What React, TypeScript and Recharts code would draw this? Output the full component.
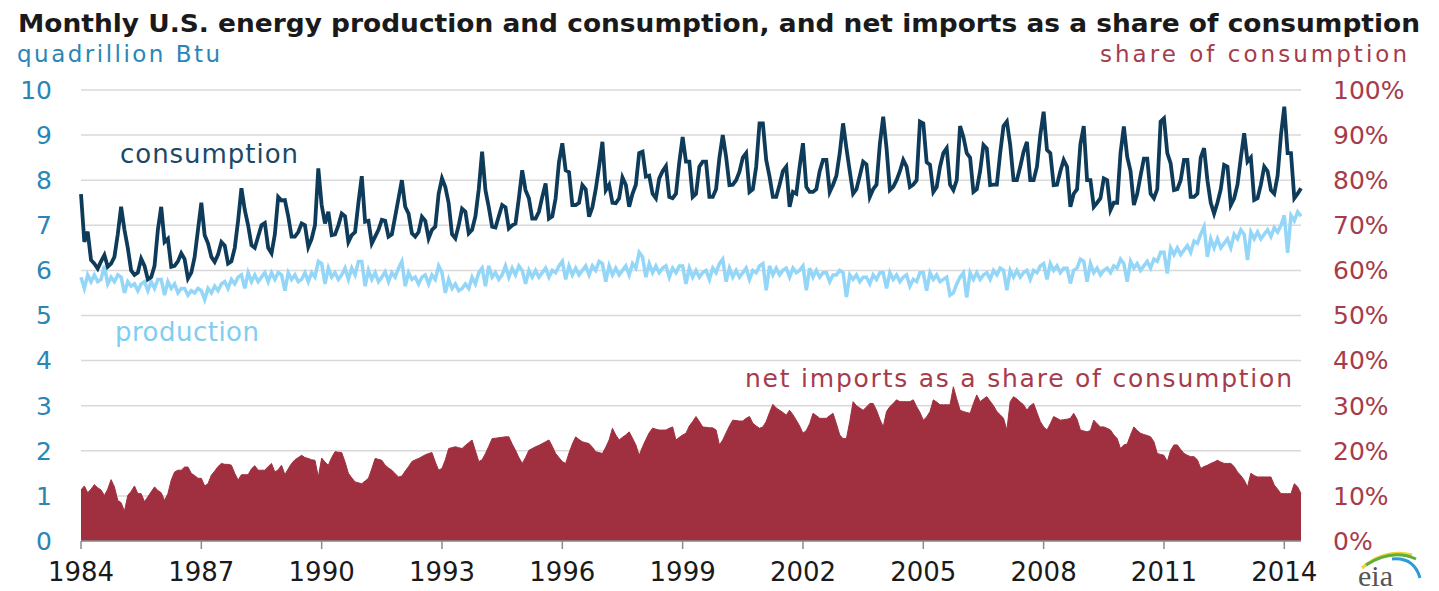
import React from 'react';
import { ComposedChart, Area, Line, XAxis, YAxis, CartesianGrid } from 'recharts';

// monthly values, Jan 1984 - Jun 2014
const consumption1984to1993 = [
  7.69, 6.63, 6.86, 6.23, 6.15, 6.04, 6.2, 6.34, 6.08, 6.15, 6.3, 6.8,
  7.41, 6.9, 6.5, 6.0, 5.9, 5.95, 6.26, 6.1, 5.8, 5.85, 6.1, 6.9,
  7.41, 6.63, 6.7, 6.08, 6.1, 6.2, 6.38, 6.25, 5.82, 5.95, 6.3, 6.9,
  7.5, 6.78, 6.6, 6.3, 6.19, 6.35, 6.63, 6.55, 6.15, 6.2, 6.5, 7.1,
  7.82, 7.34, 7.0, 6.56, 6.5, 6.75, 7.0, 7.05, 6.5, 6.38, 6.8, 7.63,
  7.55, 7.56, 7.2, 6.75, 6.75, 6.85, 7.04, 7.0, 6.52, 6.7, 7.0, 8.26,
  7.45, 7.04, 7.3, 6.78, 6.8, 7.0, 7.26, 7.2, 6.63, 6.78, 6.85, 7.5,
  8.09, 7.08, 7.1, 6.6, 6.75, 6.9, 7.12, 7.1, 6.75, 6.8, 7.2, 7.6,
  8.0, 7.41, 7.26, 6.82, 6.75, 6.85, 7.19, 7.1, 6.71, 6.9, 6.97, 7.7,
  8.04, 7.85, 7.49, 6.8, 6.71, 7.0, 7.37, 7.3, 6.82, 6.9, 7.2, 7.8,
];
const consumption1994to2003 = [
  8.63, 7.78, 7.4, 6.97, 6.95, 7.2, 7.45, 7.4, 6.93, 7.0, 7.04, 7.6,
  8.22, 7.78, 7.6, 7.15, 7.15, 7.3, 7.63, 7.93, 7.15, 7.2, 7.6, 8.4,
  8.82, 8.22, 8.18, 7.45, 7.45, 7.5, 7.89, 7.8, 7.19, 7.4, 7.8, 8.3,
  8.85, 7.78, 7.9, 7.5, 7.49, 7.6, 8.06, 7.9, 7.41, 7.7, 7.9, 8.6,
  8.63, 8.08, 8.1, 7.7, 7.6, 8.04, 8.2, 8.31, 7.63, 7.6, 7.7, 8.4,
  8.96, 8.41, 8.41, 7.63, 7.7, 8.3, 8.41, 8.41, 7.63, 7.63, 7.8, 8.5,
  9.0, 8.52, 7.89, 7.9, 8.0, 8.19, 8.5, 8.6, 7.74, 7.8, 8.3, 9.26,
  9.26, 8.45, 8.08, 7.63, 7.63, 7.9, 8.2, 8.3, 7.41, 7.74, 7.7, 8.3,
  8.82, 7.85, 7.74, 7.74, 7.8, 8.2, 8.45, 8.45, 7.74, 7.9, 8.1, 8.6,
  9.26, 8.71, 8.2, 7.7, 7.8, 8.1, 8.41, 8.35, 7.63, 7.8, 7.9, 8.8,
];
const consumption2004to2014 = [
  9.41, 8.71, 7.78, 7.85, 8.0, 8.2, 8.45, 8.3, 7.85, 7.9, 8.0, 9.3,
  9.26, 8.4, 8.34, 7.74, 7.85, 8.3, 8.6, 8.71, 7.9, 7.78, 8.0, 9.2,
  8.96, 8.6, 8.5, 7.74, 7.8, 8.2, 8.78, 8.7, 7.89, 7.9, 7.9, 8.6,
  9.2, 9.3, 8.78, 8.0, 8.0, 8.3, 8.63, 8.85, 8.0, 8.0, 8.3, 9.0,
  9.52, 8.67, 8.6, 7.89, 7.9, 8.2, 8.45, 8.3, 7.41, 7.7, 7.8, 8.8,
  9.2, 8.0, 8.0, 7.41, 7.5, 7.6, 8.04, 8.0, 7.34, 7.5, 7.5, 8.6,
  9.19, 8.52, 8.2, 7.45, 7.7, 8.1, 8.48, 8.48, 7.7, 7.6, 7.8, 9.3,
  9.37, 8.6, 8.37, 7.78, 7.8, 8.0, 8.45, 8.45, 7.63, 7.63, 7.7, 8.5,
  8.71, 8.0, 7.5, 7.26, 7.5, 7.8, 8.34, 8.3, 7.45, 7.6, 7.9, 8.5,
  9.04, 8.41, 8.5, 7.56, 7.6, 7.9, 8.3, 8.2, 7.78, 7.7, 8.1, 9.0,
  9.63, 8.6, 8.6, 7.6, 7.7, 7.82,
];

const production1984to1993 = [
  5.85, 5.6, 5.9, 5.75, 5.9, 5.75, 5.8, 6.1, 5.7, 5.85, 5.75, 5.9,
  5.85, 5.5, 5.75, 5.65, 5.7, 5.55, 5.7, 5.75, 5.55, 5.75, 5.6, 5.8,
  5.8, 5.45, 5.75, 5.6, 5.7, 5.5, 5.6, 5.6, 5.45, 5.55, 5.5, 5.6,
  5.55, 5.35, 5.6, 5.5, 5.65, 5.55, 5.7, 5.75, 5.6, 5.8, 5.7, 5.85,
  5.9, 5.6, 5.95, 5.75, 5.9, 5.75, 5.85, 5.95, 5.75, 5.95, 5.8, 5.95,
  5.9, 5.55, 5.95, 5.8, 5.9, 5.75, 5.8, 5.95, 5.75, 5.95, 5.85, 6.2,
  6.15, 5.7, 6.05, 5.85, 5.95, 5.8, 5.9, 6.05, 5.8, 6.05, 5.9, 6.2,
  6.2, 5.65, 6.0, 5.8, 5.95, 5.75, 5.85, 5.97, 5.75, 5.95, 5.85, 6.05,
  6.2, 5.65, 5.95, 5.8, 5.85, 5.7, 5.85, 5.9, 5.7, 5.9, 5.8, 6.1,
  5.95, 5.5, 5.8, 5.6, 5.7, 5.55, 5.6, 5.7, 5.6, 5.85, 5.7, 5.95,
];
const production1994to2003 = [
  6.05, 5.65, 6.1, 5.85, 5.95, 5.8, 5.9, 6.1, 5.85, 6.05, 5.9, 6.1,
  6.0, 5.7, 6.0, 5.85, 6.0, 5.85, 5.95, 6.05, 5.85, 6.0, 5.95, 6.1,
  6.2, 5.8, 6.1, 5.9, 6.05, 5.9, 6.0, 6.1, 5.9, 6.1, 6.0, 6.2,
  6.15, 5.75, 6.1, 5.9, 6.05, 5.9, 6.0, 6.1, 5.9, 6.15, 6.05, 6.4,
  6.3, 5.85, 6.15, 5.95, 6.1, 5.95, 6.05, 6.1, 5.85, 6.05, 5.95, 6.1,
  6.1, 5.7, 6.05, 5.85, 6.0, 5.85, 5.95, 6.0, 5.8, 6.05, 5.95, 6.15,
  6.25, 5.75, 6.05, 5.85, 6.0, 5.85, 5.95, 6.05, 5.8, 6.0, 5.95, 6.1,
  6.15, 5.56, 6.1, 5.9, 6.05, 5.9, 6.0, 6.05, 5.85, 6.05, 5.95, 6.0,
  6.1, 5.56, 6.05, 5.85, 6.0, 5.85, 5.95, 5.95, 5.75, 5.9, 5.9, 6.0,
  5.95, 5.41, 5.9, 5.8, 5.9, 5.75, 5.85, 5.85, 5.7, 5.9, 5.8, 5.95,
];
const production2004to2014 = [
  5.95, 5.6, 5.95, 5.8, 5.9, 5.75, 5.85, 5.9, 5.65, 5.8, 5.75, 5.95,
  5.95, 5.55, 5.95, 5.8, 5.9, 5.75, 5.8, 5.85, 5.45, 5.5, 5.7, 5.85,
  5.95, 5.4, 5.95, 5.8, 5.95, 5.8, 5.9, 5.95, 5.8, 6.0, 5.9, 6.05,
  6.0, 5.56, 6.0, 5.85, 6.0, 5.85, 5.95, 6.0, 5.8, 6.0, 5.95, 6.1,
  6.15, 5.8, 6.15, 6.0, 6.1, 5.95, 6.05, 6.05, 5.71, 6.0, 6.05, 6.25,
  6.2, 5.75, 6.15, 5.95, 6.05, 5.9, 6.0, 6.05, 5.95, 6.1, 6.05, 6.25,
  6.15, 5.75, 6.2, 6.05, 6.15, 6.0, 6.1, 6.2, 6.05, 6.25, 6.2, 6.4,
  6.4, 5.93, 6.5, 6.35, 6.5, 6.35, 6.45, 6.55, 6.4, 6.65, 6.6, 6.8,
  6.97, 6.3, 6.7, 6.5, 6.7, 6.5, 6.6, 6.7, 6.5, 6.8, 6.7, 6.9,
  6.8, 6.23, 6.85, 6.7, 6.85, 6.7, 6.8, 6.9, 6.75, 6.95, 6.85, 7.0,
  7.22, 6.39, 7.22, 7.1, 7.3, 7.2,
];

// net imports, percent of consumption
const share1984to1993 = [
  11.3, 12.2, 10.7, 11.5, 12.5, 11.8, 11.3, 10.1, 11.5, 13.6, 12.0, 9.0,
  8.5, 6.6, 10.1, 11.0, 12.2, 10.5, 10.5, 8.7, 9.8, 10.9, 12.0, 11.2,
  10.7, 9.0, 10.5, 13.5, 15.3, 15.7, 15.7, 16.4, 16.4, 15.0, 14.5, 13.9,
  13.9, 12.2, 12.7, 14.6, 15.5, 16.5, 17.2, 17.0, 17.0, 16.8, 15.0, 13.5,
  14.7, 14.7, 14.7, 16.0, 16.7, 15.7, 15.7, 15.7, 16.5, 17.2, 15.3, 15.8,
  16.8, 14.7, 16.0, 17.2, 18.0, 18.5, 19.0, 18.5, 18.3, 18.0, 17.9, 14.2,
  18.4, 17.5, 16.8, 18.5, 19.8, 19.7, 19.6, 17.5, 15.0, 14.0, 13.1, 12.9,
  12.7, 13.3, 13.9, 16.0, 18.3, 18.1, 17.9, 16.8, 16.2, 15.7, 14.9, 14.2,
  14.4, 15.5, 16.5, 17.6, 18.0, 18.3, 18.7, 19.1, 19.4, 19.6, 17.5, 15.7,
  16.1, 18.0, 20.5, 20.7, 20.9, 20.7, 20.5, 21.2, 21.8, 22.4, 20.0, 17.6,
];
const share1994to2003 = [
  18.0, 19.4, 21.0, 22.7, 22.8, 22.9, 23.0, 23.1, 23.1, 21.5, 20.1, 18.5,
  17.2, 18.5, 20.1, 20.5, 20.9, 21.2, 21.6, 22.0, 22.4, 21.0, 19.4, 18.5,
  17.6, 17.2, 19.5, 21.5, 23.1, 22.5, 22.0, 21.8, 21.6, 20.8, 19.8, 19.6,
  19.4, 20.8, 22.4, 25.0, 23.5, 22.4, 23.0, 23.5, 24.2, 22.8, 21.3, 19.0,
  20.9, 22.5, 24.0, 25.0, 24.8, 24.6, 24.6, 24.6, 25.0, 25.3, 22.4, 23.0,
  23.5, 23.9, 25.5, 26.5, 27.6, 26.5, 25.3, 25.2, 25.1, 25.1, 24.6, 21.3,
  22.4, 24.0, 25.5, 26.8, 26.7, 26.6, 26.6, 27.2, 27.6, 26.1, 25.5, 25.0,
  25.3, 26.5, 28.5, 30.3, 29.5, 29.0, 28.5, 27.9, 29.0, 28.0, 26.8, 25.5,
  23.9, 24.5, 26.0, 28.3, 27.8, 27.2, 27.2, 27.2, 27.8, 28.3, 26.0, 23.5,
  22.7, 22.7, 26.5, 30.9, 30.0, 29.5, 29.0, 29.7, 30.5, 30.5, 29.0, 27.0,
];
const share2004to2014 = [
  25.3, 28.7, 29.8, 30.5, 31.3, 30.9, 30.9, 30.9, 30.9, 31.3, 29.8, 28.5,
  26.8, 27.5, 28.7, 31.3, 30.8, 30.2, 30.2, 30.2, 30.2, 34.2, 31.5, 29.0,
  28.7, 28.5, 28.3, 30.5, 32.4, 30.9, 31.5, 32.0, 31.0, 30.0, 28.7, 28.0,
  27.2, 24.6, 30.9, 32.0, 31.5, 30.8, 30.2, 29.0, 30.0, 30.5, 28.5, 26.5,
  25.3, 24.6, 26.0, 27.6, 27.2, 26.8, 26.9, 27.0, 27.2, 28.3, 27.0, 24.6,
  24.4, 24.2, 24.5, 26.8, 26.0, 25.3, 25.3, 25.0, 24.6, 23.5, 22.7, 20.5,
  21.3, 21.5, 23.5, 25.3, 24.5, 23.9, 23.6, 23.4, 23.1, 22.0, 19.4, 19.2,
  19.0, 17.6, 20.1, 21.3, 21.3, 20.3, 19.4, 19.0, 18.7, 18.7, 18.0, 16.1,
  16.5, 16.8, 17.2, 17.5, 17.9, 17.5, 17.2, 17.2, 17.2, 16.5, 15.3, 14.5,
  13.5, 12.0, 15.0, 14.5, 14.2, 14.2, 14.2, 14.2, 14.2, 12.4, 11.5, 10.5,
  10.5, 10.5, 10.5, 12.7, 12.0, 10.5,
];

const yearLabels = ['1984', '1987', '1990', '1993', '1996', '1999', '2002', '2005', '2008', '2011', '2014'];
const leftTicks = [0, 1, 2, 3, 4, 5, 6, 7, 8, 9, 10];
const rightTicks = [0, 10, 20, 30, 40, 50, 60, 70, 80, 90, 100];

const consumption = [...consumption1984to1993, ...consumption1994to2003, ...consumption2004to2014];
const production = [...production1984to1993, ...production1994to2003, ...production2004to2014];
const share = [...share1984to1993, ...share1994to2003, ...share2004to2014];

const data = consumption.map((c, i) => ({
  month: i,
  consumption: c,
  production: production[i],
  share: share[i],
}));

// first month of each labelled year
const monthTicks = yearLabels.map((y) => (Number(y) - 1984) * 12);

const FONT = '"DejaVu Sans", Verdana, sans-serif';
const BLUE = '#2a86b6';
const RED = '#a63c4b';

const App: React.FC = () => {
  return (
    <div style={{ position: 'absolute', left: 0, top: 0, width: 1439, height: 591, background: '#fff' }}>
      <ComposedChart
        width={1439}
        height={591}
        data={data}
        margin={{ top: 90, right: 0, bottom: 10, left: 0 }}
      >
        <CartesianGrid yAxisId="left" vertical={false} stroke="#d9d9d9" strokeWidth={1.5} />
        <XAxis
          dataKey="month"
          type="number"
          domain={[0, 365]}
          ticks={monthTicks}
          tickFormatter={(m: number) => String(1984 + m / 12)}
          height={40}
          stroke="#8c8c8c"
          strokeWidth={1.5}
          tickSize={8}
          tickMargin={14}
          tick={{ fill: '#1a1a1a', fontSize: 26, fontFamily: FONT }}
        />
        <YAxis
          yAxisId="left"
          domain={[0, 10]}
          ticks={leftTicks}
          width={81}
          axisLine={false}
          tickLine={false}
          tickSize={8}
          tickMargin={21}
          tick={{ fill: BLUE, fontSize: 25, fontFamily: FONT }}
        />
        <YAxis
          yAxisId="right"
          orientation="right"
          domain={[0, 100]}
          ticks={rightTicks}
          width={138}
          axisLine={false}
          tickLine={false}
          tickSize={8}
          tickMargin={24}
          tickFormatter={(v: number) => `${v}%`}
          tick={{ fill: RED, fontSize: 25, fontFamily: FONT }}
        />
        <Area
          yAxisId="right"
          type="linear"
          dataKey="share"
          fill="#a0303f"
          fillOpacity={1}
          stroke="#a0303f"
          strokeWidth={1}
          isAnimationActive={false}
        />
        <Line
          yAxisId="left"
          type="linear"
          dataKey="production"
          stroke="#93d6f8"
          strokeWidth={3.5}
          dot={false}
          isAnimationActive={false}
        />
        <Line
          yAxisId="left"
          type="linear"
          dataKey="consumption"
          stroke="#0d3b59"
          strokeWidth={3.8}
          dot={false}
          isAnimationActive={false}
        />
      </ComposedChart>

      <svg
        width={1439}
        height={591}
        style={{ position: 'absolute', left: 0, top: 0, pointerEvents: 'none' }}
        fontFamily={FONT}
      >
        <text x={18} y={31.5} fontSize={25} fontWeight="bold" fill="#1a1a1a" textLength={1402} lengthAdjust="spacingAndGlyphs">
          Monthly U.S. energy production and consumption, and net imports as a share of consumption
        </text>
        <text x={17} y={61.5} fontSize={23} fill={BLUE} textLength={203} lengthAdjust="spacing">
          quadrillion Btu
        </text>
        <text x={1100} y={61.5} fontSize={23} fill={RED} textLength={307} lengthAdjust="spacing">
          share of consumption
        </text>
        <text x={120} y={163} fontSize={26} fill="#1c4866" textLength={178} lengthAdjust="spacing">
          consumption
        </text>
        <text x={115} y={341} fontSize={26} fill="#80cdf2" textLength={144} lengthAdjust="spacing">
          production
        </text>
        <text x={745} y={386.5} fontSize={25} fill={RED} textLength={547} lengthAdjust="spacing">
          net imports as a share of consumption
        </text>
        {/* eia logo */}
        <path d="M1362 568 Q1385 548 1412 555" stroke="#f2d22e" strokeWidth={3} fill="none" />
        <path d="M1366 565 Q1392 548 1416 559" stroke="#5fae3c" strokeWidth={3} fill="none" />
        <path d="M1392 559 Q1414 557 1420 578" stroke="#2f9ad8" strokeWidth={3} fill="none" />
        <text x={1358} y={586} fontSize={30} fill="#555" fontFamily='"Liberation Serif", serif'>
          eia
        </text>
      </svg>
    </div>
  );
};

export default App;
